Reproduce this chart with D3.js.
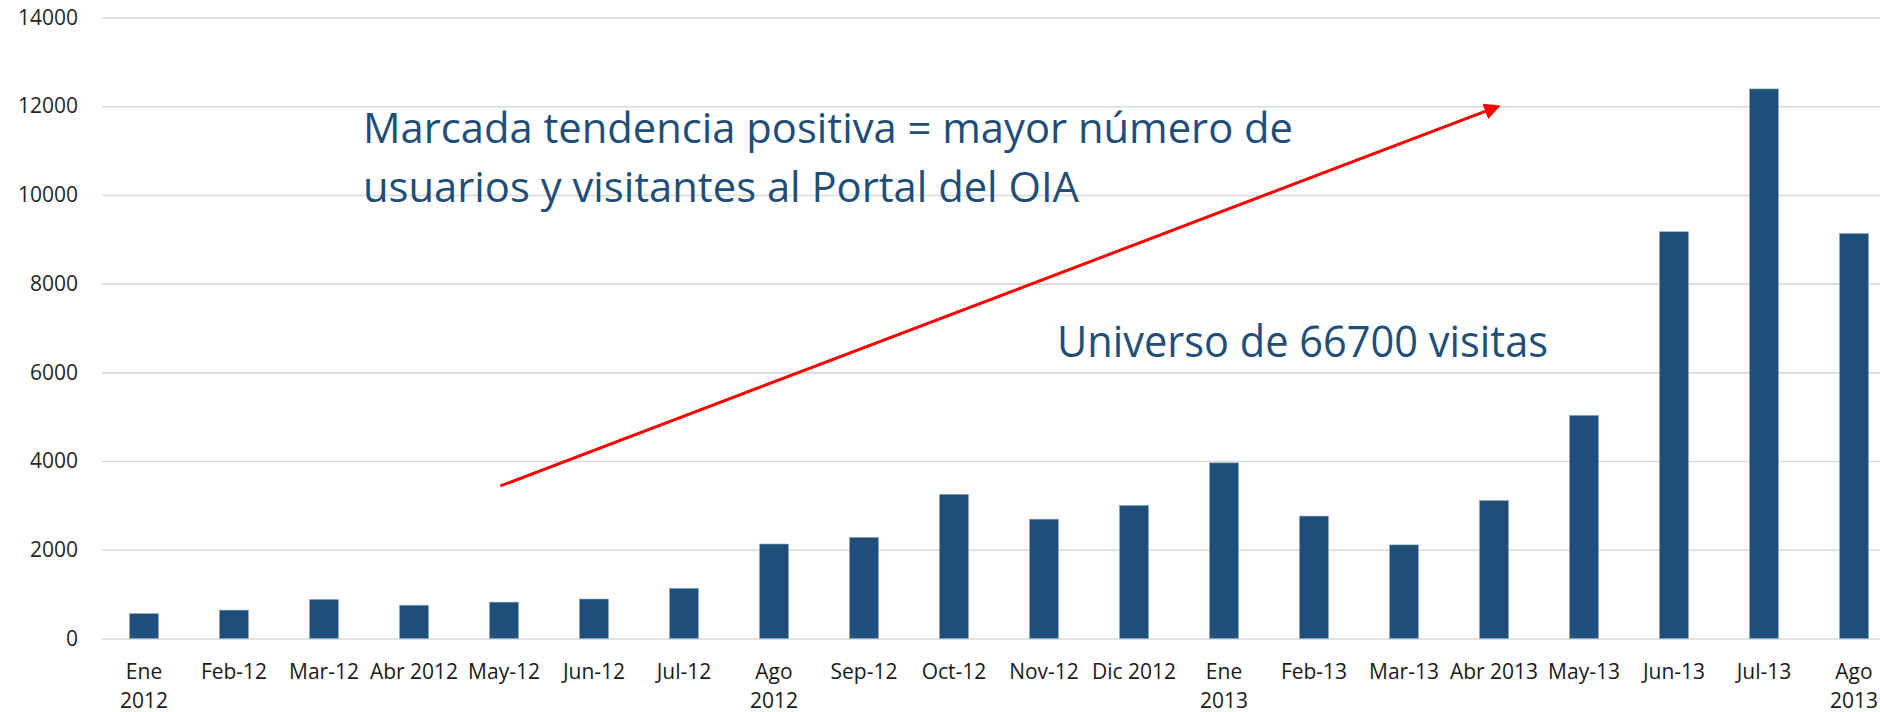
<!DOCTYPE html>
<html lang="es">
<head>
    <meta charset="UTF-8">
    <title>Visitas al Portal del OIA</title>
    <script src="https://d3js.org/d3.v7.min.js"></script>
    <style>
        body { margin: 0; background: #fff; }
        text { font-family: "Open Sans", "Noto Sans", sans-serif; }
    </style>
</head>
<body>
    <svg width="1880" height="712"></svg>

    <script>
        // Meses (etiquetas en dos líneas donde hace falta)
        const meses = [
            ["Ene", "2012"], ["Feb-12"], ["Mar-12"], ["Abr 2012"], ["May-12"],
            ["Jun-12"], ["Jul-12"], ["Ago", "2012"], ["Sep-12"], ["Oct-12"],
            ["Nov-12"], ["Dic 2012"], ["Ene", "2013"], ["Feb-13"], ["Mar-13"],
            ["Abr 2013"], ["May-13"], ["Jun-13"], ["Jul-13"], ["Ago", "2013"]
        ];
        // Visitas por mes (total aprox. 66700)
        const visitas = [560, 640, 880, 750, 820, 890, 1130, 2130, 2280, 3250,
                         2690, 3000, 3960, 2760, 2110, 3110, 5030, 9170, 12390, 9130];
        const yTicks = [0, 2000, 4000, 6000, 8000, 10000, 12000, 14000];

        // Flecha de tendencia en coordenadas de datos: [índice de mes, visitas]
        const flecha = [[3.96, 3440], [15.04, 11990]];
        const textoTendencia = ["Marcada tendencia positiva = mayor número de",
                                "usuarios y visitantes al Portal del OIA"];
        const textoUniverso = "Universo de 66700 visitas";

        const data = meses.map((m, i) => ({ id: i, label: m, valor: visitas[i] }));

        const svg = d3.select("svg");
        const azul = "#1f4e79";

        const x = d3.scaleBand()
            .domain(data.map(d => d.id))
            .range([99, 1899])
            .paddingInner(0.678)
            .paddingOuter(0.339);

        const y = d3.scaleLinear()
            .domain([0, 14000])
            .range([638.5, 17.5]);

        // Eje Y con líneas de cuadrícula
        const gy = svg.append("g")
            .attr("transform", "translate(102,0)")
            .call(d3.axisLeft(y)
                .tickValues(yTicks)
                .tickFormat(d3.format("d"))
                .tickSize(-(1880 - 102))
                .tickPadding(24));
        gy.select(".domain").remove();
        gy.selectAll(".tick line").attr("stroke", "#d9d9d9").attr("stroke-width", 1.6);
        gy.selectAll(".tick text").attr("font-size", 21).attr("fill", "#262626");

        // Barras
        svg.selectAll(".bar")
            .data(data)
            .enter()
            .append("rect")
            .attr("class", "bar")
            .attr("x", d => x(d.id))
            .attr("y", d => y(d.valor))
            .attr("width", x.bandwidth())
            .attr("height", d => y(0) - y(d.valor))
            .attr("fill", azul)
            .attr("stroke", "#8fa7c0")
            .attr("stroke-width", 0.6);

        // Eje X con etiquetas de dos líneas
        const gx = svg.append("g")
            .attr("transform", `translate(0,${y(0)})`)
            .call(d3.axisBottom(x).tickSize(0).tickFormat(""));
        gx.select(".domain").remove();
        gx.selectAll(".tick text").remove();
        gx.selectAll(".tick")
            .append("text")
            .attr("text-anchor", "middle")
            .attr("font-size", 21)
            .attr("fill", "#1a1a1a")
            .each(function (id) {
                const t = d3.select(this);
                meses[id].forEach((line, k) => {
                    t.append("tspan")
                        .attr("x", 0)
                        .attr("y", 40 + k * 29)
                        .text(line);
                });
            });

        // Flecha roja
        svg.append("defs").append("marker")
            .attr("id", "punta")
            .attr("viewBox", "0 0 10 10")
            .attr("refX", 8)
            .attr("refY", 5)
            .attr("markerWidth", 5.5)
            .attr("markerHeight", 5.5)
            .attr("orient", "auto")
            .append("path")
            .attr("d", "M0,0 L10,5 L0,10 Z")
            .attr("fill", "#ff0000");

        const xc = i => x(0) + x.bandwidth() / 2 + i * x.step();
        svg.append("line")
            .attr("x1", xc(flecha[0][0]))
            .attr("y1", y(flecha[0][1]))
            .attr("x2", xc(flecha[1][0]))
            .attr("y2", y(flecha[1][1]))
            .attr("stroke", "#ff0000")
            .attr("stroke-width", 3)
            .attr("marker-end", "url(#punta)");

        // Textos
        const anchos = [930, 716];
        textoTendencia.forEach((t, k) => {
            svg.append("text")
                .attr("x", 363)
                .attr("y", 143 + k * 59)
                .attr("font-size", 42)
                .attr("fill", azul)
                .attr("textLength", anchos[k])
                .attr("lengthAdjust", "spacingAndGlyphs")
                .text(t);
        });

        svg.append("text")
            .attr("x", 1057)
            .attr("y", 357)
            .attr("font-size", 44)
            .attr("fill", azul)
            .attr("textLength", 491)
            .attr("lengthAdjust", "spacingAndGlyphs")
            .text(textoUniverso);
    </script>
</body>
</html>
